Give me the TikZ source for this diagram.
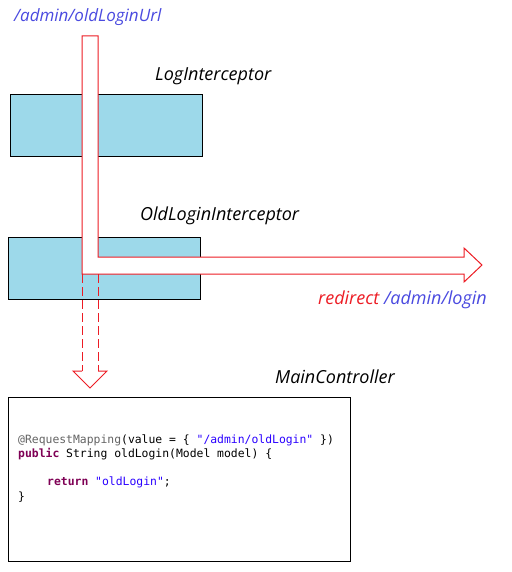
\documentclass[tikz,border=0pt]{standalone}
\usepackage{fontspec}
\setmainfont{Open Sans}
\newfontfamily\codefont{DejaVu Sans Mono}
\definecolor{boxblue}{HTML}{9DD9EA}
\definecolor{arrred}{HTML}{ED1C24}
\definecolor{lblblue}{HTML}{4A4AE0}
\definecolor{annot}{HTML}{646464}
\definecolor{kw}{HTML}{7F0055}
\definecolor{str}{HTML}{2A00FF}
\begin{document}
\begin{tikzpicture}[x=1pt,y=-1pt,
  ibox/.style={draw=black,line width=1.2pt,fill=boxblue},
  lbl/.style={font=\itshape\fontsize{18}{20}\selectfont,anchor=west,inner sep=0pt},
  codeline/.style={font=\codefont\fontsize{11.4}{13}\selectfont,anchor=base west,inner sep=0pt},
  redline/.style={draw=arrred,line width=1pt},
  reddash/.style={draw=arrred,line width=1pt,dash pattern=on 9pt off 4pt}]
\useasboundingbox (0,0) rectangle (511,572);
\fill[white] (0,0) rectangle (511,572);
% boxes
\node[ibox,minimum width=192pt,minimum height=62pt,inner sep=0pt,anchor=north west] (log) at (10,94) {};
\node[ibox,minimum width=192pt,minimum height=62pt,inner sep=0pt,anchor=north west] (old) at (8,237) {};
\node[draw=black,line width=1.2pt,minimum width=342pt,minimum height=164pt,inner sep=0pt,anchor=north west] (main) at (8,397) {};
% red L arrow
\draw[redline,fill=white,line join=miter] (82,36) -- (98,36) -- (98,257) -- (464,257) -- (464,248) -- (482,265) -- (464,282) -- (464,274) -- (82,274) -- cycle;
% dashed arrow
\coordinate (dl1) at (82,274);
\coordinate (dr1) at (98,274);
\coordinate (dl2) at (82,371);
\coordinate (dr2) at (98,371);
\draw[reddash] (dl1) -- (dl2);
\draw[reddash] (dr1) -- (dr2);
\draw[redline,line join=miter] (dl2) -- (73,371) -- (90,388) -- (107,371) -- (dr2);
% labels
\node[lbl,text=lblblue,font=\itshape\fontsize{17}{19}\selectfont] (url) at (14,17) {/admin/oldLoginUrl};
\node[lbl] (logl) at (155,76) {LogInterceptor};
\node[lbl] (oldl) at (140,216) {OldLoginInterceptor};
\node[lbl] (redir) at (318,300) {\textcolor{arrred}{redirect} \textcolor{lblblue}{/admin/login}};
\node[lbl] (mainl) at (275,377) {MainController};
% code
\node[codeline] (c1) at (18,443) {\textcolor{annot}{@RequestMapping}(value = \{ \textcolor{str}{"/admin/oldLogin"} \})};
\node[codeline] (c2) at (18,457) {\textcolor{kw}{\bfseries public} String oldLogin(Model model) \{};
\node[codeline] (c3) at (47,485) {\textcolor{kw}{\bfseries return} \textcolor{str}{"oldLogin"};};
\node[codeline] (c4) at (18,500) {\}};
\end{tikzpicture}
\end{document}
